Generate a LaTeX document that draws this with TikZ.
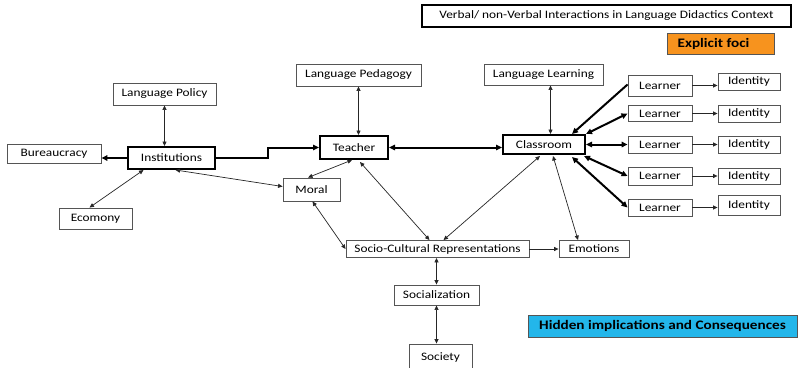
\documentclass[tikz,border=0pt]{standalone}
\usepackage{fontspec}
\setmainfont{Carlito}[FakeStretch=1.17]
\usetikzlibrary{arrows.meta,calc}
\definecolor{orangefoci}{RGB}{247,147,30}
\definecolor{cyanhidden}{RGB}{35,182,234}
\definecolor{boxline}{RGB}{85,85,85}
\begin{document}
\begin{tikzpicture}[x=1pt,y=-1pt,
  box/.style={draw=boxline,line width=0.9pt,fill=white,inner sep=0pt,
    font=\fontsize{11.4}{13}\selectfont,align=center},
  thickbox/.style={box,draw=black,line width=2pt},
  thin/.style={line width=0.7pt,black!85},
  heavy/.style={line width=2pt,black},
  tip/.style={-{Triangle[length=4.5pt,width=4pt]}},
  dtip/.style={{Triangle[length=4.5pt,width=4pt]}-{Triangle[length=4.5pt,width=4pt]}},
  tipH/.style={-{Triangle[length=6pt,width=5.5pt]}},
  dtipH/.style={{Triangle[length=6pt,width=5.5pt]}-{Triangle[length=6pt,width=5.5pt]}}
]
\useasboundingbox (0,0) rectangle (798,367);
\fill[white] (0,0) rectangle (798,367);

% legend boxes
\node[box,draw=black,line width=1.8pt,minimum width=369pt,minimum height=22pt] (title) at (606.5,16)
  {Verbal/ non-Verbal Interactions in Language Didactics Context};
\node[box,fill=orangefoci,draw=boxline,minimum width=107pt,minimum height=21pt,
  font=\fontsize{13}{14}\selectfont\bfseries] (foci) at (720.5,43.5) {Explicit foci\hspace*{14pt}};
\node[box,fill=cyanhidden,draw=boxline,minimum width=269pt,minimum height=22pt,
  font=\fontsize{13}{14}\selectfont\bfseries] (hidden) at (662.5,326) {Hidden implications and Consequences};

% main nodes
\node[box,minimum width=103pt,minimum height=22pt] (lp) at (164.5,94) {Language Policy};
\node[box,minimum width=94pt,minimum height=19pt] (bur) at (54,153.5) {Bureaucracy};
\node[thickbox,minimum width=87pt,minimum height=22pt] (inst) at (171.5,158) {Institutions};
\node[box,minimum width=73pt,minimum height=21pt] (eco) at (95.5,218.5) {Ecomony};
\node[box,minimum width=125pt,minimum height=22pt] (lped) at (358.5,75) {Language Pedagogy};
\node[thickbox,minimum width=68pt,minimum height=23pt] (teacher) at (354,147.5) {Teacher};
\node[box,minimum width=119pt,minimum height=21pt] (ll) at (543.5,74.5) {Language Learning};
\node[thickbox,minimum width=82pt,minimum height=19pt] (class) at (544,144.5) {Classroom};
\node[box,minimum width=57pt,minimum height=23pt] (moral) at (311.5,189.5) {Moral};
\node[box,minimum width=183pt,minimum height=17pt] (socio) at (437.5,249) {Socio-Cultural Representations};
\node[box,minimum width=70pt,minimum height=17pt] (emo) at (594,249) {Emotions};
\node[box,minimum width=85pt,minimum height=20pt] (socz) at (436.5,295) {Socialization};
\node[box,minimum width=63pt,minimum height=26pt] (society) at (440.5,357) {Society};

% learners and identities
\node[box,minimum width=64pt,minimum height=21pt] (l1) at (660,85.5) {Learner};
\node[box,minimum width=64pt,minimum height=16pt] (l2) at (660,113.5) {Learner};
\node[box,minimum width=64pt,minimum height=17pt] (l3) at (660,144.5) {Learner};
\node[box,minimum width=64pt,minimum height=18pt] (l4) at (660,176) {Learner};
\node[box,minimum width=64pt,minimum height=17pt] (l5) at (660,207.5) {Learner};
\node[box,minimum width=62pt,minimum height=17pt] (i1) at (749,81.5) {Identity};
\node[box,minimum width=62pt,minimum height=17pt] (i2) at (749,113.5) {Identity};
\node[box,minimum width=62pt,minimum height=17pt] (i3) at (749,144.5) {Identity};
\node[box,minimum width=62pt,minimum height=16pt] (i4) at (749,176) {Identity};
\node[box,minimum width=62pt,minimum height=20pt] (i5) at (749,205) {Identity};

% connectors around Institutions
\draw[thin,dtip] (lp.south) -- (lp.south |- inst.north);
\draw[heavy,tipH] (inst.west) -- (inst.west -| bur.east);
\draw[thin,dtip] ($(inst.south)+(-28,0)$) -- ($(eco.north)+(-6,0)$);
\draw[thin,dtip] ($(inst.south)+(4,0)$) -- ($(moral.west)+(0,-3)$);
\draw[heavy,tipH] (inst.east) -- ++(52,0) |- (teacher.west);

% Teacher
\draw[thin,dtip] (lped.south) -- (lped.south |- teacher.north);
\draw[heavy,dtipH] (teacher.east) -- (teacher.east -| class.west);
\draw[thin,dtip] ($(teacher.south)+(-2,0)$) -- ($(moral.north)+(-3.5,0)$);
\draw[thin,dtip] ($(teacher.south)+(6,2)$) -- ($(socio.north)+(-8,0)$);

% Classroom
\draw[thin,dtip] ($(ll.south)+(7,0)$) -- ($(class.north)+(6.5,0)$);
\draw[thin,dtip] ($(class.south)+(-4,1)$) -- ($(socio.north)+(6,0)$);
\draw[thin,dtip] ($(class.south)+(9,1)$) -- ($(emo.north)+(-16,0)$);
\draw[heavy,tipH] ($(l1.west)+(0,-1)$) -- ($(class.north)+(28,0)$);
\draw[heavy,dtipH] (l2.west) -- (class.north east);
\draw[heavy,dtipH] (l3.west) -- (class.east);
\draw[heavy,dtipH] (l4.west) -- ($(class.south east)+(-2,1)$);
\draw[heavy,dtipH] (l5.west) -- ($(class.south)+(28,2)$);

% learners to identities
\foreach \n in {1,...,5}{
  \draw[thin,tip] (l\n.east) -- (l\n.east -| i\n.west);
}

% lower part
\draw[thin,dtip] ($(moral.south)+(1,0)$) -- (socio.west);
\draw[thin,tip] (socio.east) -- (emo.west);
\draw[thin,dtip] (socz.north) -- (socz.north |- socio.south);
\draw[thin,dtip] (socz.south) -- (socz.south |- society.north);
\end{tikzpicture}
\end{document}
